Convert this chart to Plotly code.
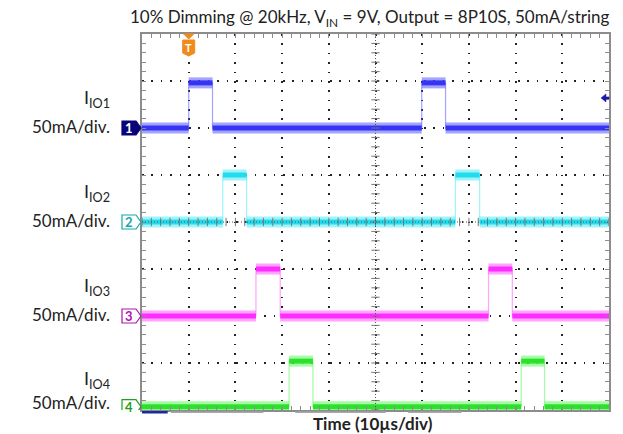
import plotly.graph_objects as go

# ---- data (time in µs, levels in divisions; 50 mA/div) ----
channels = ["IO1", "IO2", "IO3", "IO4"]
baselines = [6.0, 4.0, 2.0, 0.07]
pulse_height = [0.96, 1.0, 1.0, 0.97]
rise_times = [[10.0, 59.9], [17.3, 67.1], [24.4, 74.2], [31.5, 81.2]]
fall_times = [[15.1, 65.0], [22.4, 72.3], [29.6, 79.3], [36.6, 86.2]]
core_colors = ["#3434f2", "#22dced", "#ff2cff", "#2ee02e"]
band_colors = ["rgba(90,90,255,0.55)", "rgba(80,235,245,0.55)",
               "rgba(255,90,255,0.55)", "rgba(90,250,90,0.55)"]
marker_colors = ["#06067a", "#16a8a8", "#b012b0", "#1ea01e"]
t_start, t_end = 0, 100
y_min, y_max = 0, 8
trigger_time = 10.0
trigger_level = 6.64

# page body has an 8px margin: shrink the figure accordingly
PAD = 8
W, H = 623 - PAD, 434 - PAD
ML, MR, MT, MB = 142 - PAD, 12, 34 - PAD, 24
PW, PH = W - ML - MR, H - MT - MB


def px_x(px):  # absolute window pixel -> paper x
    return (px - PAD - ML) / PW


def px_y(py):  # absolute window pixel -> paper y
    return 1 - (py - PAD - MT) / PH


fig = go.Figure()

for i, ch in enumerate(channels):
    b = baselines[i]
    h = b + pulse_height[i]
    xs, ys = [t_start], [b]
    for r, f in zip(rise_times[i], fall_times[i]):
        xs += [r, r, f, f]
        ys += [b, h, h, b]
    xs.append(t_end); ys.append(b)
    fig.add_trace(go.Scatter(x=xs, y=ys, mode="lines",
                             line=dict(color=band_colors[i], width=1.2),
                             hoverinfo="skip", showlegend=False))
    bx, by = [], []
    prev = t_start
    for r, f in zip(rise_times[i], fall_times[i]):
        bx += [prev, r, None, r, f, None]
        by += [b, b, None, h, h, None]
        prev = f
    bx += [prev, t_end]; by += [b, b]
    fig.add_trace(go.Scatter(x=bx, y=by, mode="lines",
                             line=dict(color=band_colors[i], width=11),
                             hoverinfo="skip", showlegend=False))
    fig.add_trace(go.Scatter(x=bx, y=by, mode="lines",
                             line=dict(color=core_colors[i], width=5),
                             hoverinfo="skip", showlegend=False))

# center crosshair ticks
cy = [y_min + k * 0.2 for k in range(41)]
cx = [t_start + k * 2 for k in range(51)]
fig.add_trace(go.Scatter(x=[50] * len(cy), y=cy, mode="markers",
                         marker=dict(symbol="line-ew", size=6,
                                     line=dict(color="#777", width=1)),
                         hoverinfo="skip", showlegend=False))
fig.add_trace(go.Scatter(x=cx, y=[4] * len(cx), mode="markers",
                         marker=dict(symbol="line-ns", size=6,
                                     line=dict(color="#777", width=1)),
                         hoverinfo="skip", showlegend=False))

shapes = []
shapes.append(dict(type="line", x0=50, x1=50, y0=y_min, y1=y_max,
                   line=dict(color="#555", width=1, dash="1px,2px"), layer="above"))
shapes.append(dict(type="line", x0=t_start, x1=t_end, y0=4, y1=4,
                   line=dict(color="#555", width=1, dash="1px,2px"), layer="above"))

annotations = []
for i, ch in enumerate(channels):
    b = baselines[i]
    col = marker_colors[i]
    filled = (i == 0)
    shapes.append(dict(type="path", xref="paper", yref="y",
                       xsizemode="pixel", ysizemode="pixel",
                       xanchor=0, yanchor=b,
                       path="M -20,-7 L -6,-7 L -1,0 L -6,7 L -20,7 Z",
                       line=dict(color=col, width=1.2),
                       fillcolor=col if filled else "white", layer="above"))
    annotations.append(dict(x=0, y=b, xref="paper", yref="y", text=f"<b>{i+1}</b>",
                            showarrow=False, xanchor="center", yanchor="middle",
                            xshift=-13, yshift=0,
                            font=dict(family="Lato", size=13,
                                      color="white" if filled else col)))
    annotations.append(dict(x=0, y=b, xref="paper", yref="y", text="50mA/div.",
                            showarrow=False, xanchor="right", yanchor="middle",
                            xshift=-30, yshift=2 if i < 3 else 4,
                            font=dict(family="Lato", size=17, color="#222")))
    annotations.append(dict(x=0, y=b, xref="paper", yref="y",
                            text=f"I<sub>{ch}</sub>",
                            showarrow=False, xanchor="right", yanchor="middle",
                            xshift=-30, yshift=30 if i < 3 else 27,
                            font=dict(family="Lato", size=18, color="#222")))

# trigger marker
shapes.append(dict(type="path", xref="x", yref="paper", xsizemode="pixel",
                   ysizemode="pixel", xanchor=trigger_time, yanchor=1,
                   path="M -5,0 L 5,0 L 0,-5 Z", line=dict(color="#f08a1c", width=1),
                   fillcolor="#f08a1c", layer="above"))
shapes.append(dict(type="path", xref="x", yref="paper", xsizemode="pixel",
                   ysizemode="pixel", xanchor=trigger_time, yanchor=1,
                   path="M -6,-6 L 6,-6 L 6,-19 L 0,-22 L -6,-19 Z",
                   line=dict(color="#f08a1c", width=1),
                   fillcolor="#f08a1c", layer="above"))
annotations.append(dict(x=trigger_time, y=1, xref="x", yref="paper", text="<b>T</b>",
                        showarrow=False, xanchor="center", yanchor="middle",
                        yshift=-13, font=dict(family="Lato", size=11, color="white")))
shapes.append(dict(type="path", xref="paper", yref="y", xsizemode="pixel",
                   ysizemode="pixel", xanchor=1, yanchor=trigger_level,
                   path="M -8,0 L -3,4 L -3,1 L 0,1 L 0,-1 L -3,-1 L -3,-4 Z",
                   line=dict(color="#1a1aa8", width=0.5),
                   fillcolor="#1a1aa8", layer="above"))

# bottom scroll bar decoration
shapes.append(dict(type="line", xref="x", yref="paper", x0=0, x1=5.5, y0=-0.006, y1=-0.006,
                   line=dict(color="#1c2aa0", width=2.5)))
for a, c in [(6.2, 26.0), (32.8, 52.2), (57.0, 68.4)]:
    shapes.append(dict(type="line", xref="x", yref="paper", x0=a, x1=c, y0=-0.006, y1=-0.006,
                       line=dict(color="#a8a8a8", width=1.5)))

# title and x label
annotations.append(dict(x=px_x(370), y=px_y(18), xref="paper", yref="paper",
                        yanchor="middle", xanchor="center", showarrow=False,
                        text="10% Dimming @ 20kHz, V<sub>IN</sub> = 9V, Output = 8P10S, 50mA/string",
                        font=dict(family="Lato", size=17, color="#222")))
annotations.append(dict(x=px_x(374), y=px_y(424), xref="paper", yref="paper",
                        yanchor="middle", xanchor="center", showarrow=False,
                        text="<b>Time (10µs/div)</b>",
                        font=dict(family="Lato", size=17, color="#222")))

fig.update_layout(
    width=W, height=H,
    margin=dict(l=ML, r=MR, t=MT, b=MB),
    paper_bgcolor="white", plot_bgcolor="white",
    shapes=shapes, annotations=annotations, showlegend=False,
)
fig.update_xaxes(range=[t_start, t_end], dtick=10, tick0=0, showticklabels=False,
                 showgrid=True, gridcolor="#222", gridwidth=1.6, griddash="1.6px,7.78px",
                 zeroline=False, showline=True, linecolor="#8c8c8c", linewidth=2,
                 mirror="ticks", ticks="inside", ticklen=4, tickcolor="#8c8c8c",
                 minor=dict(dtick=2, ticks="inside", ticklen=4, tickcolor="#8c8c8c", showgrid=False),
                 layer="above traces", fixedrange=True)
fig.update_yaxes(range=[y_min, y_max], dtick=1, tick0=0, showticklabels=False,
                 showgrid=True, gridcolor="#222", gridwidth=1.6, griddash="1.6px,7.8px",
                 zeroline=False, showline=True, linecolor="#8c8c8c", linewidth=2,
                 mirror="ticks", ticks="inside", ticklen=4, tickcolor="#8c8c8c",
                 minor=dict(dtick=0.2, ticks="inside", ticklen=4, tickcolor="#8c8c8c", showgrid=False),
                 layer="above traces", fixedrange=True)

fig.write_html("out.html")
